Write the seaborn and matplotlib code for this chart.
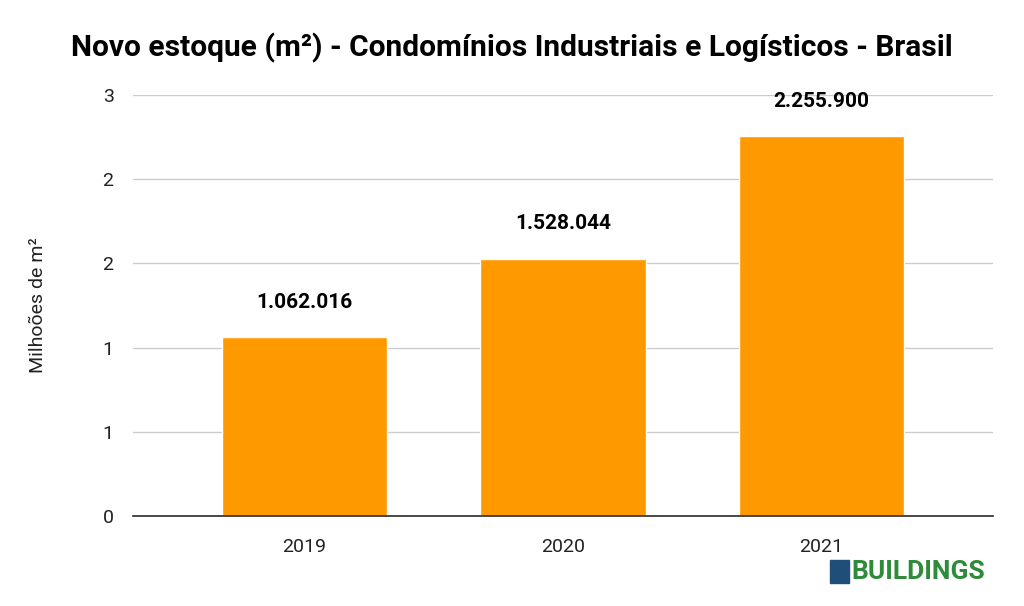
import matplotlib
matplotlib.use("Agg")
import matplotlib.pyplot as plt
import seaborn as sns
import pandas as pd

years = ["2019", "2020", "2021"]
values_m = [1.062016, 1.528044, 2.2559]
labels = ["1.062.016", "1.528.044", "2.255.900"]
yticks = [0, 0.5, 1, 1.5, 2, 2.5]
ytick_labels = ["0", "1", "1", "2", "2", "3"]

sns.set_theme(style="white")
plt.rcParams['font.family'] = ['Roboto', 'DejaVu Sans']
plt.rcParams['text.color'] = 'black'

fig = plt.figure(figsize=(10.24, 6.06), dpi=100)
ax = fig.add_axes([133/1024, 1-516/606, 860/1024, 421/606])
df = pd.DataFrame({"year": years, "v": values_m})
sns.barplot(data=df, x="year", y="v", color="#ff9900", saturation=1, width=0.64, ax=ax)
ax.set_xlim(-0.663, 2.663)
ax.set_ylim(0, 2.5)
ax.set_yticks(yticks)
ax.set_yticklabels(ytick_labels, fontsize=14, color="#222222")
ax.tick_params(axis='x', labelsize=14, pad=10, colors="#222222")
ax.tick_params(axis='y', pad=14, length=0)
ax.yaxis.grid(True, color="#cccccc", linewidth=1)
ax.set_axisbelow(True)
for s in ["top", "right", "left"]:
    ax.spines[s].set_visible(False)
ax.spines["bottom"].set_color("#333333")
ax.set_xlabel("")
ax.set_ylabel("Milhoões de m²", fontsize=14, labelpad=40, color="#222222")
for i, (v, l) in enumerate(zip(values_m, labels)):
    ax.text(i, v + 0.15, l, ha="center", va="bottom", fontsize=15, fontweight="bold", color="black")
fig.text(0.5, 1-48/606, "Novo estoque (m²) - Condomínios Industriais e Logísticos - Brasil",
         ha="center", va="center", fontsize=21.5, fontweight="bold", color="black")
fig.patches.append(plt.Rectangle((830/1024, 1-583/606), 19/1024, 23/606,
                                 transform=fig.transFigure, color="#1f4e79"))
fig.text(851/1024, 1-572/606, "BUILDINGS", ha="left", va="center",
         fontsize=19, fontweight="bold", color="#2e8b3a")
fig.savefig("out.png", dpi=100)
